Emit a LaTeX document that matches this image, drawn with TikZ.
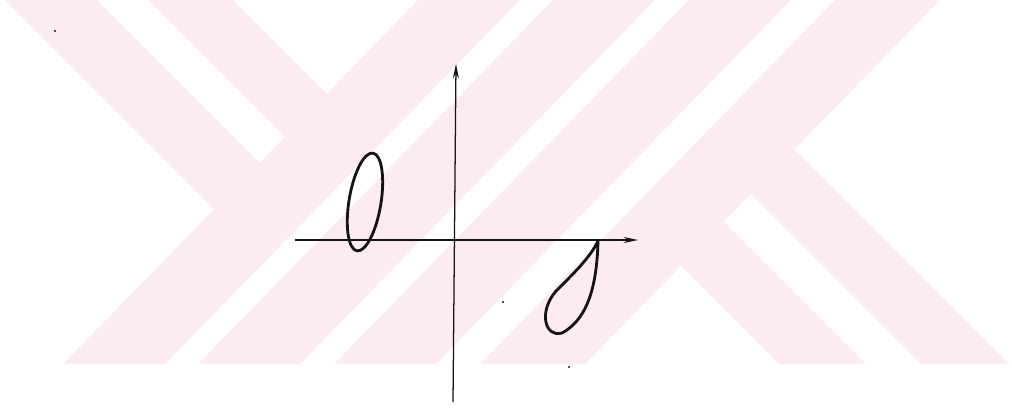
\documentclass[tikz,border=0pt]{standalone}
\usepackage{tikz}
\usetikzlibrary{arrows.meta}
\definecolor{wmark}{HTML}{FDECEF}
\definecolor{inkc}{HTML}{141414}
\tikzset{
  >={Stealth[length=3.6mm,width=1.5mm]},
  band/.style={fill=wmark,draw=none},
  axis/.style={->,draw=inkc,line width=0.9pt},
  loopc/.style={draw=inkc,line width=2pt,line join=round},
  speck/.style={fill=inkc},
}
\begin{document}
\begin{tikzpicture}[x=0.025cm,y=-0.025cm]
  \useasboundingbox (0,0) rectangle (1012,408);
  % watermark stripes
  \begin{scope}
    \clip (0,0) rectangle (1012,363);
    \foreach \a/\b in {418/520,553/655,689/791,835/940}
      \fill[band] (\a,0) -- (\b,0) -- (\b-390,400) -- (\a-390,400) -- cycle;
    \fill[band] (5,0) -- (97,0) -- (284.8,187.8) -- (239.4,234.4) -- cycle;
    \fill[band] (148,0) -- (233,0) -- (352,119) -- (310,162) -- cycle;
    \fill[band] (767.8,122.8) -- (1045,400) -- (957,400) -- (724.3,167.3) -- cycle;
    \fill[band] (697.2,195.2) -- (902,400) -- (815,400) -- (654.2,239.2) -- cycle;
  \end{scope}
  % axes
  \coordinate (xl) at (295,240);
  \coordinate (xr) at (638,240);
  \coordinate (yb) at (453,402);
  \coordinate (yt) at (456,64);
  \draw[axis,line width=1.4pt] (xl) -- (xr);
  \draw[axis] (yb) -- (yt);
  % closed curves
  \coordinate (oc) at (365,202);
  \draw[loopc,rotate around={-9.3:(oc)}] (oc) ellipse [x radius=16,y radius=49.5];
  \coordinate (tip) at (598,241);
  \draw[loopc] (tip) .. controls (597,280) and (590,318) .. (562,333)
    .. controls (545,338) and (538,312) .. (556,291)
    .. controls (572,275) and (590,258) .. (tip);
  % specks
  \fill[speck] (55,31) circle (1.2);
  \fill[speck] (503,302) circle (1.1);
  \fill[speck] (569,367) circle (1.1);
\end{tikzpicture}
\end{document}
